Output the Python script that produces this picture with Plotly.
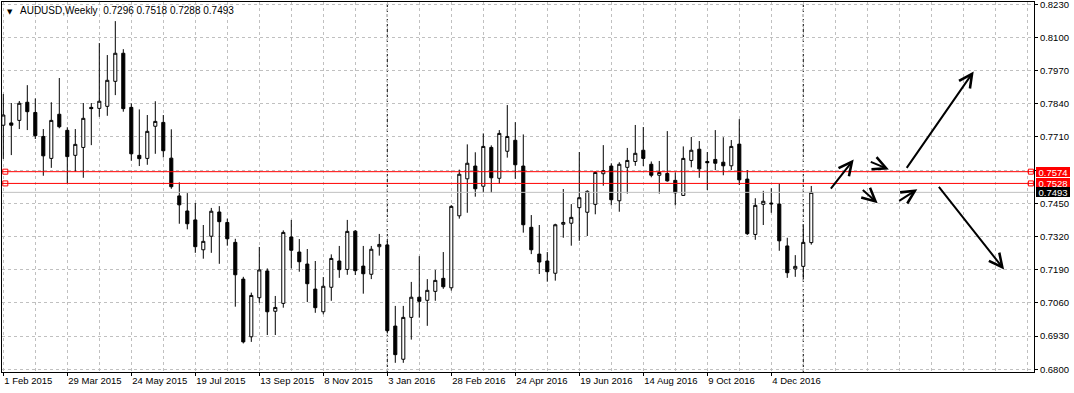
import plotly.graph_objects as go

# ---------------- data ----------------
symbol = "AUDUSD,Weekly"

date_labels = ["1 Feb 2015", "29 Mar 2015", "24 May 2015", "19 Jul 2015", "13 Sep 2015",
               "8 Nov 2015", "3 Jan 2016", "28 Feb 2016", "24 Apr 2016", "19 Jun 2016",
               "14 Aug 2016", "9 Oct 2016", "4 Dec 2016"]

opens = [0.7756, 0.7765, 0.7775, 0.7846, 0.7806, 0.7712, 0.7626, 0.7799, 0.7736, 0.7638,
         0.7669, 0.7826, 0.7822, 0.7830, 0.7928, 0.8038, 0.7826, 0.7638, 0.7626, 0.7752,
         0.7767, 0.7627, 0.7479, 0.7420, 0.7385, 0.7268, 0.7321, 0.7416, 0.7375, 0.7297,
         0.7153, 0.6927, 0.7080, 0.7185, 0.7027, 0.7058, 0.7318, 0.7259, 0.7212, 0.7114,
         0.7025, 0.7121, 0.7224, 0.7191, 0.7341, 0.7204, 0.7172, 0.7280, 0.7287, 0.6969,
         0.6839, 0.7003, 0.7082, 0.7070, 0.7105, 0.7156, 0.7119, 0.7401, 0.7546, 0.7596,
         0.7517, 0.7669, 0.7548, 0.7654, 0.7697, 0.7596, 0.7356, 0.7251, 0.7224, 0.7176,
         0.7368, 0.7372, 0.7433, 0.7415, 0.7446, 0.7566, 0.7596, 0.7460, 0.7591, 0.7614,
         0.7658, 0.7603, 0.7560, 0.7567, 0.7540, 0.7481, 0.7618, 0.7662, 0.7614, 0.7622,
         0.7611, 0.7597, 0.7682, 0.7545, 0.7328, 0.7446, 0.7451, 0.7447, 0.7283, 0.7193,
         0.7203, 0.7296]
highs = [0.7878, 0.7843, 0.7851, 0.7913, 0.7861, 0.7741, 0.7846, 0.7941, 0.7748, 0.7741,
         0.7843, 0.7843, 0.8078, 0.8031, 0.8164, 0.8054, 0.7842, 0.7818, 0.7796, 0.7850,
         0.7796, 0.7740, 0.7532, 0.7490, 0.7451, 0.7365, 0.7432, 0.7439, 0.7390, 0.7311,
         0.7162, 0.7100, 0.7279, 0.7195, 0.7087, 0.7344, 0.7385, 0.7310, 0.7271, 0.7224,
         0.7161, 0.7250, 0.7283, 0.7385, 0.7345, 0.7283, 0.7283, 0.7330, 0.7302, 0.7048,
         0.7048, 0.7142, 0.7243, 0.7153, 0.7189, 0.7259, 0.7443, 0.7582, 0.7681, 0.7650,
         0.7724, 0.7677, 0.7737, 0.7835, 0.7768, 0.7720, 0.7404, 0.7365, 0.7259, 0.7370,
         0.7506, 0.7447, 0.7651, 0.7501, 0.7576, 0.7678, 0.7607, 0.7611, 0.7667, 0.7757,
         0.7749, 0.7614, 0.7616, 0.7733, 0.7571, 0.7673, 0.7710, 0.7694, 0.7651, 0.7737,
         0.7709, 0.7698, 0.7780, 0.7580, 0.7470, 0.7499, 0.7509, 0.7526, 0.7315, 0.7247,
         0.7368, 0.7518]
lows = [0.7624, 0.7639, 0.7741, 0.7737, 0.7702, 0.7558, 0.7589, 0.7744, 0.7529, 0.7574,
        0.7550, 0.7678, 0.7789, 0.7793, 0.7874, 0.7809, 0.7617, 0.7596, 0.7601, 0.7644,
        0.7630, 0.7507, 0.7370, 0.7348, 0.7256, 0.7233, 0.7256, 0.7213, 0.7284, 0.7045,
        0.6901, 0.6907, 0.7060, 0.6934, 0.6934, 0.7041, 0.7195, 0.7182, 0.7063, 0.7021,
        0.7015, 0.7068, 0.7158, 0.7170, 0.7169, 0.7096, 0.7153, 0.7245, 0.6941, 0.6825,
        0.6825, 0.6916, 0.7002, 0.6970, 0.7068, 0.7115, 0.7108, 0.7390, 0.7413, 0.7476,
        0.7491, 0.7491, 0.7526, 0.7629, 0.7546, 0.7335, 0.7251, 0.7173, 0.7143, 0.7147,
        0.7315, 0.7284, 0.7303, 0.7322, 0.7407, 0.7519, 0.7442, 0.7417, 0.7488, 0.7597,
        0.7596, 0.7552, 0.7488, 0.7535, 0.7442, 0.7479, 0.7591, 0.7550, 0.7502, 0.7580,
        0.7560, 0.7580, 0.7522, 0.7326, 0.7307, 0.7365, 0.7413, 0.7264, 0.7158, 0.7162,
        0.7152, 0.7288]
closes = [0.7796, 0.7756, 0.7842, 0.7809, 0.7715, 0.7636, 0.7775, 0.7750, 0.7633, 0.7681,
          0.7783, 0.7821, 0.7850, 0.7932, 0.8038, 0.7821, 0.7644, 0.7625, 0.7732, 0.7771,
          0.7656, 0.7515, 0.7444, 0.7370, 0.7280, 0.7301, 0.7419, 0.7378, 0.7311, 0.7170,
          0.6907, 0.7089, 0.7189, 0.7025, 0.7042, 0.7336, 0.7266, 0.7221, 0.7135, 0.7041,
          0.7125, 0.7234, 0.7190, 0.7340, 0.7186, 0.7174, 0.7270, 0.7289, 0.6951, 0.6857,
          0.7003, 0.7082, 0.7066, 0.7109, 0.7148, 0.7123, 0.7438, 0.7564, 0.7607, 0.7507,
          0.7673, 0.7550, 0.7724, 0.7712, 0.7601, 0.7366, 0.7268, 0.7220, 0.7182, 0.7366,
          0.7375, 0.7395, 0.7472, 0.7497, 0.7571, 0.7578, 0.7464, 0.7603, 0.7618, 0.7646,
          0.7626, 0.7560, 0.7571, 0.7538, 0.7491, 0.7626, 0.7658, 0.7585, 0.7609, 0.7607,
          0.7597, 0.7673, 0.7542, 0.7331, 0.7442, 0.7458, 0.7448, 0.7303, 0.7178, 0.7203,
          0.7297, 0.7493]

bars_per_label = 8                 # one date label every 8 weekly bars
bars_per_grid = 4                  # one vertical grid line every 4 bars
year_separators = [48, 100]        # first bars of 2016 and 2017
price_levels = [0.7574, 0.7528]    # red horizontal lines
level_anchor_bars = [0.25, 128.45] # small squares at both ends of the red lines
bid_price = closes[-1]
y_ticks = [0.6800, 0.6930, 0.7060, 0.7190, 0.7320, 0.7450, 0.7580,
           0.7710, 0.7840, 0.7970, 0.8100, 0.8230]
hidden_y_labels = [0.7580]
# hand-drawn arrows: (tail bar, tail price, head bar, head price)
arrows = [(103.3, 0.7502, 106.3, 0.7622),
          (108.25, 0.7615, 110.7, 0.7583),
          (112.8, 0.7583, 121.3, 0.7967),
          (107.25, 0.7507, 109.3, 0.7450),
          (111.8, 0.7456, 114.25, 0.7505),
          (116.8, 0.7520, 125.1, 0.7191)]

x_range = [-0.1625, 128.84]
y_range = [0.678903, 0.823887]

# ---------------- figure ----------------
FONT = "Liberation Sans"
GRID = "#C0C0C0"
bars = list(range(len(opens)))

fig = go.Figure()
fig.add_trace(go.Candlestick(
    x=bars, open=opens, high=highs, low=lows, close=closes,
    increasing=dict(line=dict(color="black", width=1), fillcolor="white"),
    decreasing=dict(line=dict(color="black", width=1), fillcolor="black"),
    whiskerwidth=0, hoverinfo="skip", showlegend=False))

shapes = []
for s in year_separators:
    shapes.append(dict(type="line", xref="x", yref="paper", x0=s, x1=s, y0=0, y1=1,
                       line=dict(color="black", width=1, dash="3px,2px"), layer="below"))
shapes.append(dict(type="line", xref="paper", yref="y", x0=0, x1=1, y0=bid_price, y1=bid_price,
                   line=dict(color="#C0C0C0", width=1), layer="above"))
for p in price_levels:
    shapes.append(dict(type="line", xref="paper", yref="y", x0=0, x1=1, y0=p, y1=p,
                       line=dict(color="#FF0000", width=1), layer="above"))

for p in price_levels:
    fig.add_trace(go.Scatter(
        x=level_anchor_bars, y=[p] * len(level_anchor_bars), mode="markers",
        marker=dict(symbol="square", size=5, color="white", line=dict(color="#FF0000", width=1)),
        hoverinfo="skip", showlegend=False, cliponaxis=False))

annotations = []
for (tx, ty, hx, hy) in arrows:
    annotations.append(dict(x=hx, y=hy, ax=tx, ay=ty, xref="x", yref="y", axref="x", ayref="y",
                            text="", showarrow=True, arrowhead=5, arrowsize=1.3, arrowwidth=2,
                            arrowcolor="black", standoff=0, startstandoff=0))

for p, bg in [(price_levels[0], "#FF0000"), (price_levels[1], "#FF0000"), (bid_price, "black")]:
    annotations.append(dict(x=1, y=p, xref="paper", yref="y", xanchor="left", yanchor="middle",
                            xshift=2, text=f"{p:.4f}", showarrow=False, bgcolor=bg,
                            font=dict(family=FONT, size=9.5, color="white"),
                            borderpad=0, borderwidth=0, width=34, height=10, align="center"))

annotations.append(dict(x=0, y=1, xref="paper", yref="paper", xanchor="left", yanchor="top",
                        xshift=3, yshift=-4, text="▼", showarrow=False,
                        font=dict(family="DejaVu Sans", size=7, color="black")))
title_text = (f"{symbol}\u00a0\u00a0{opens[-1]:.4f} {highs[-1]:.4f} "
              f"{lows[-1]:.4f} {closes[-1]:.4f}")
annotations.append(dict(x=0, y=1, xref="paper", yref="paper", xanchor="left", yanchor="top",
                        xshift=16, yshift=-1, text=title_text, showarrow=False,
                        font=dict(family=FONT, size=10, color="black")))

fig.update_layout(
    width=1074, height=393,
    margin=dict(l=2, r=40, t=2, b=21, pad=0, autoexpand=False),
    paper_bgcolor="white", plot_bgcolor="white",
    font=dict(family=FONT, size=9.5, color="black"),
    boxgap=0.45,
    showlegend=False,
    shapes=shapes, annotations=annotations,
    xaxis=dict(
        type="linear", range=x_range, fixedrange=True, automargin=False,
        rangeslider=dict(visible=False),
        tickmode="array",
        tickvals=[bars_per_label * k for k in range(len(date_labels))],
        ticktext=date_labels, tickangle=0,
        ticks="outside", ticklen=3, tickcolor="black", tickwidth=1,
        ticklabelposition="outside right", ticklabeloverflow="allow",
        showgrid=True, gridcolor=GRID, griddash="3px,3px", gridwidth=1,
        minor=dict(tickmode="linear", tick0=0, dtick=bars_per_grid, showgrid=True,
                   gridcolor=GRID, griddash="3px,3px", gridwidth=1, ticks=""),
        showline=True, linecolor="black", linewidth=1, mirror=True, zeroline=False,
        tickfont=dict(family=FONT, size=9.5, color="black")),
    yaxis=dict(
        side="right", range=y_range, fixedrange=True, automargin=False,
        tickmode="array", tickvals=y_ticks,
        ticktext=["" if v in hidden_y_labels else f"{v:.4f}" for v in y_ticks],
        ticks="outside", ticklen=3, tickcolor="black", tickwidth=1,
        ticklabeloverflow="allow",
        showgrid=True, gridcolor=GRID, griddash="3px,3px", gridwidth=1,
        showline=True, linecolor="black", linewidth=1, mirror=True, zeroline=False,
        tickfont=dict(family=FONT, size=9.5, color="black")),
)

fig.write_html("out.html",
               config={"displayModeBar": False},
               post_script="document.body.style.margin='0';"
                           "document.body.style.overflow='hidden';"
                           "document.documentElement.style.overflow='hidden';")
